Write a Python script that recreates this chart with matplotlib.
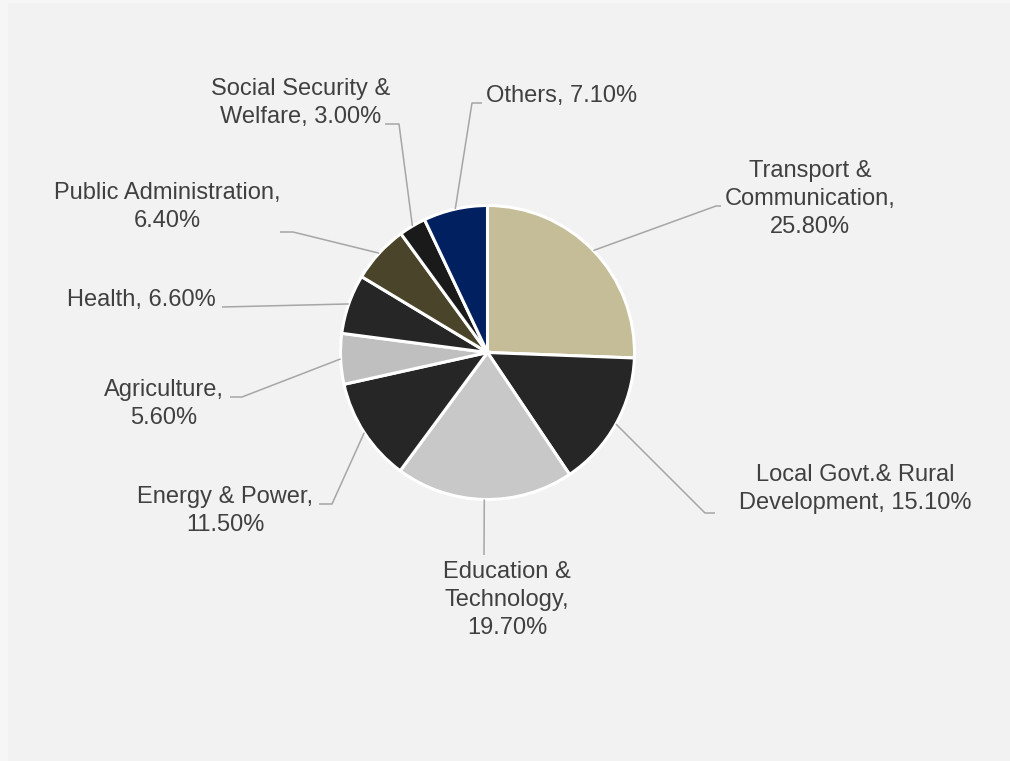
import matplotlib
matplotlib.use('Agg')
import matplotlib.pyplot as plt
import numpy as np
from matplotlib.patches import Rectangle

# ---- data ----
categories = ["Transport & Communication", "Local Govt.& Rural Development",
              "Education & Technology", "Energy & Power", "Agriculture",
              "Health", "Public Administration", "Social Security & Welfare",
              "Others"]
values = [25.8, 15.1, 19.7, 11.5, 5.6, 6.6, 6.4, 3.0, 7.1]
label_texts = ["Transport &\nCommunication,\n25.80%",
               "Local Govt.& Rural\nDevelopment, 15.10%",
               "Education &\nTechnology,\n19.70%",
               "Energy & Power,\n11.50%",
               "Agriculture,\n5.60%",
               "Health, 6.60%",
               "Public Administration,\n6.40%",
               "Social Security &\nWelfare, 3.00%",
               "Others, 7.10%"]
colors = ['#C4BD97', '#262626', '#C8C8C8', '#262626', '#BFBFBF',
          '#262626', '#4A452A', '#1A1A1A', '#002060']

# ---- layout (pixel coordinates, y from top) ----
W, H = 1010, 761
cx_px, cy_px, R = 487.5, 352.5, 147
text_pos = [(810, 199), (855, 489), (507, 600), (225, 511), (164, 404),
            (141, 300), (167, 207), (301, 103), (562, 96)]
leader_pts = [[(716, 206), (721, 206)],
              [(705, 513), (715, 513)],
              [(484, 555)],
              [(332, 504), (319, 504)],
              [(242, 397), (230, 397)],
              [(222, 307)],
              [(293, 232), (280, 232)],
              [(399, 124), (385, 124)],
              [(472, 103), (482, 103)]]

plt.rcParams['font.family'] = ['Liberation Sans', 'DejaVu Sans']

fig = plt.figure(figsize=(W / 100, H / 100), dpi=100)
fig.patch.set_facecolor('#F6F6F6')
bg = Rectangle((8 / W, 0), 1 - 8 / W, 1 - 3 / H,
               transform=fig.transFigure, facecolor='#F2F2F2',
               edgecolor='none', zorder=-10)
fig.patches.append(bg)
ax = fig.add_axes([0, 0, 1, 1])
ax.set_zorder(5)
ax.set_facecolor('none')

def fy(py):
    return H - py

wedges, _ = ax.pie(values, colors=colors, startangle=90, counterclock=False,
                   center=(cx_px, fy(cy_px)), radius=R,
                   wedgeprops=dict(edgecolor='white', linewidth=2.2))

ax.set_xlim(0, W)
ax.set_ylim(0, H)
ax.set_aspect('auto')
ax.axis('off')

for w, txt, (tx, ty), pts in zip(wedges, label_texts, text_pos, leader_pts):
    ang = np.deg2rad((w.theta1 + w.theta2) / 2)
    ex = cx_px + R * np.cos(ang)
    ey = fy(cy_px) + R * np.sin(ang)
    xs = [ex] + [p[0] for p in pts]
    ys = [ey] + [fy(p[1]) for p in pts]
    ax.plot(xs, ys, color='#A6A6A6', lw=1.1, solid_capstyle='butt', zorder=1)
    ax.text(tx, fy(ty), txt, ha='center', va='center', fontsize=17,
            color='#404040', linespacing=1.36, multialignment='center')

fig.savefig('out.png', dpi=100, facecolor=fig.get_facecolor())
